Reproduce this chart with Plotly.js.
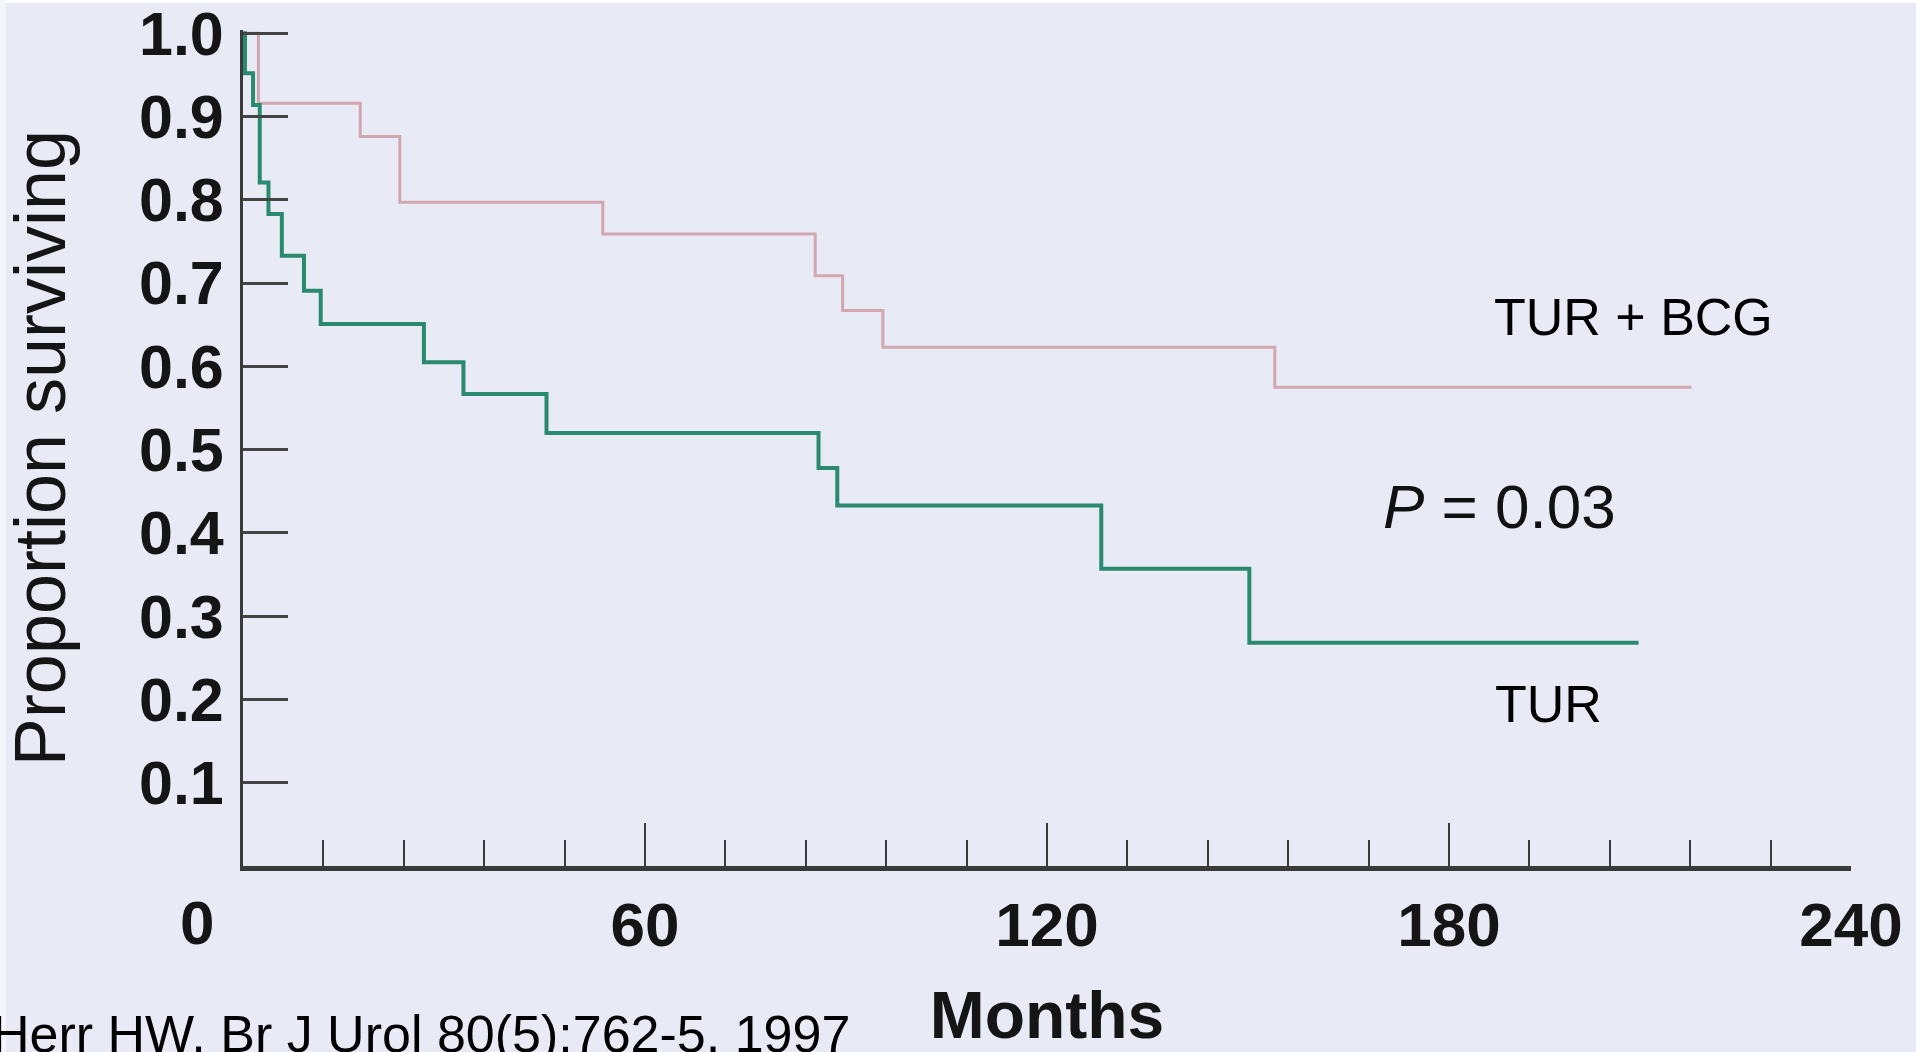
<!DOCTYPE html>
<html>
<head>
<meta charset="utf-8">
<script src="https://cdn.plot.ly/plotly-3.0.1.min.js"></script>
<style>
  html, body { margin: 0; padding: 0; background: #e8ebf6; }
  #chart { width: 1916px; height: 1052px; }
</style>
</head>
<body>
<div id="chart"></div>
<script>
// ---- Data (Kaplan-Meier step curves) ----
const monthsTUR = [0, 0.3, 1.5, 2.5, 3.8, 5.8, 9.1, 11.6, 27.0, 32.9, 45.3, 85.9, 88.7, 128.1, 150.2, 208.3];
const survivalTUR = [1.0, 0.952, 0.914, 0.821, 0.783, 0.733, 0.691, 0.651, 0.605, 0.567, 0.520, 0.478, 0.433, 0.357, 0.268, 0.268];

const monthsBCG = [0, 2.3, 17.5, 23.4, 53.7, 85.4, 89.5, 95.5, 154.0, 216.2];
const survivalBCG = [1.0, 0.916, 0.876, 0.797, 0.759, 0.709, 0.667, 0.623, 0.575, 0.575];

const xTickVals = [0, 60, 120, 180, 240];
const xTickText = ["0", "60", "120", "180", "240"];
const yTickVals = [0.1, 0.2, 0.3, 0.4, 0.5, 0.6, 0.7, 0.8, 0.9, 1.0];
const yTickText = ["0.1", "0.2", "0.3", "0.4", "0.5", "0.6", "0.7", "0.8", "0.9", "1.0"];

const seriesLabels = ["TUR + BCG", "TUR"];
const pValueText = "<i>P</i> = 0.03";
const citationText = "Herr HW, Br J Urol 80(5):762-5, 1997";
const xTitle = "Months";
const yTitle = "Proportion surviving";

// ---- Styling ----
const BG = "#e8ebf6";
const GREEN = "#2a8a6e";
const PINK = "#d4a6b0";
const AXIS = "#3a3a3a";
const SANS = "Liberation Sans, Arial, Helvetica, sans-serif";

const traces = [
  {
    x: monthsBCG, y: survivalBCG, type: "scatter", mode: "lines",
    line: { shape: "hv", color: PINK, width: 3 },
    name: seriesLabels[0], hoverinfo: "skip"
  },
  {
    x: monthsTUR, y: survivalTUR, type: "scatter", mode: "lines",
    line: { shape: "hv", color: GREEN, width: 4 },
    name: seriesLabels[1], hoverinfo: "skip"
  }
];

const layout = {
  width: 1916, height: 1052,
  paper_bgcolor: BG, plot_bgcolor: BG,
  showlegend: false,
  margin: { l: 243, r: 65, t: 30, b: 186, pad: 0 },
  xaxis: {
    range: [0, 240],
    tickvals: xTickVals.slice(1), ticktext: xTickText.slice(1),
    ticks: "inside", ticklen: 43, tickwidth: 2, tickcolor: AXIS,
    minor: { ticks: "inside", dtick: 12, tick0: 0, ticklen: 26, tickwidth: 2, tickcolor: AXIS },
    showline: true, linecolor: AXIS, linewidth: 5,
    showgrid: false, zeroline: false,
    tickfont: { family: SANS, size: 62, color: "#151515", weight: "bold" },
    ticklabelstandoff: 1,
    ticklabeloverflow: "allow",
    automargin: false,
    title: { text: xTitle, font: { family: SANS, size: 66, color: "#151515", weight: "bold" }, standoff: 64 }
  },
  yaxis: {
    range: [0, 1.004],
    tickvals: yTickVals, ticktext: yTickText,
    ticks: "inside", ticklen: 45, tickwidth: 3, tickcolor: "#444",
    showline: true, linecolor: AXIS, linewidth: 3,
    showgrid: false, zeroline: false,
    tickfont: { family: SANS, size: 61, color: "#151515", weight: "bold" },
    ticklabelstandoff: 4,
    ticklabeloverflow: "allow",
    automargin: false,
    title: { text: yTitle, font: { family: SANS, size: 72, color: "#151515" }, standoff: 58 }
  },
  annotations: [
    { xref: "x", yref: "paper", x: xTickVals[0], y: -0.068, xshift: -46, text: xTickText[0],
      showarrow: false, xanchor: "center", yanchor: "middle",
      font: { family: SANS, size: 62, color: "#151515", weight: "bold" } },
    { xref: "paper", yref: "paper", x: (1633 - 243) / 1608, y: (866 - 319) / 833, text: seriesLabels[0],
      showarrow: false, xanchor: "center", yanchor: "middle",
      font: { family: SANS, size: 52, color: "#000" } },
    { xref: "paper", yref: "paper", x: (1493 - 243) / 1608, y: (866 - 705) / 833, text: seriesLabels[1],
      showarrow: false, xanchor: "left", yanchor: "middle",
      font: { family: SANS, size: 52, color: "#000" } },
    { xref: "paper", yref: "paper", x: (1381 - 243) / 1608, y: (866 - 508) / 833, text: pValueText,
      showarrow: false, xanchor: "left", yanchor: "middle",
      font: { family: SANS, size: 62, color: "#111" } },
    { xref: "paper", yref: "paper", x: (852 - 243) / 1608, y: (866 - 1033) / 833, text: citationText,
      showarrow: false, xanchor: "right", yanchor: "middle",
      font: { family: SANS, size: 52, color: "#000" } }
  ],
  shapes: [
    { type: "rect", xref: "paper", yref: "paper", layer: "below",
      x0: -243 / 1608, x1: 1 + 65 / 1608, y0: (866 - 6) / 833, y1: 1 + 40 / 833,
      fillcolor: "#ffffff", line: { width: 0 } },
    { type: "rect", xref: "paper", yref: "paper", layer: "below",
      x0: -243 / 1608, x1: (6 - 243) / 1608, y0: -186 / 833, y1: 1 + 40 / 833,
      fillcolor: "#f4f5fa", line: { width: 0 } }
  ]
};

Plotly.newPlot("chart", traces, layout, { staticPlot: true, displayModeBar: false });
</script>
</body>
</html>
